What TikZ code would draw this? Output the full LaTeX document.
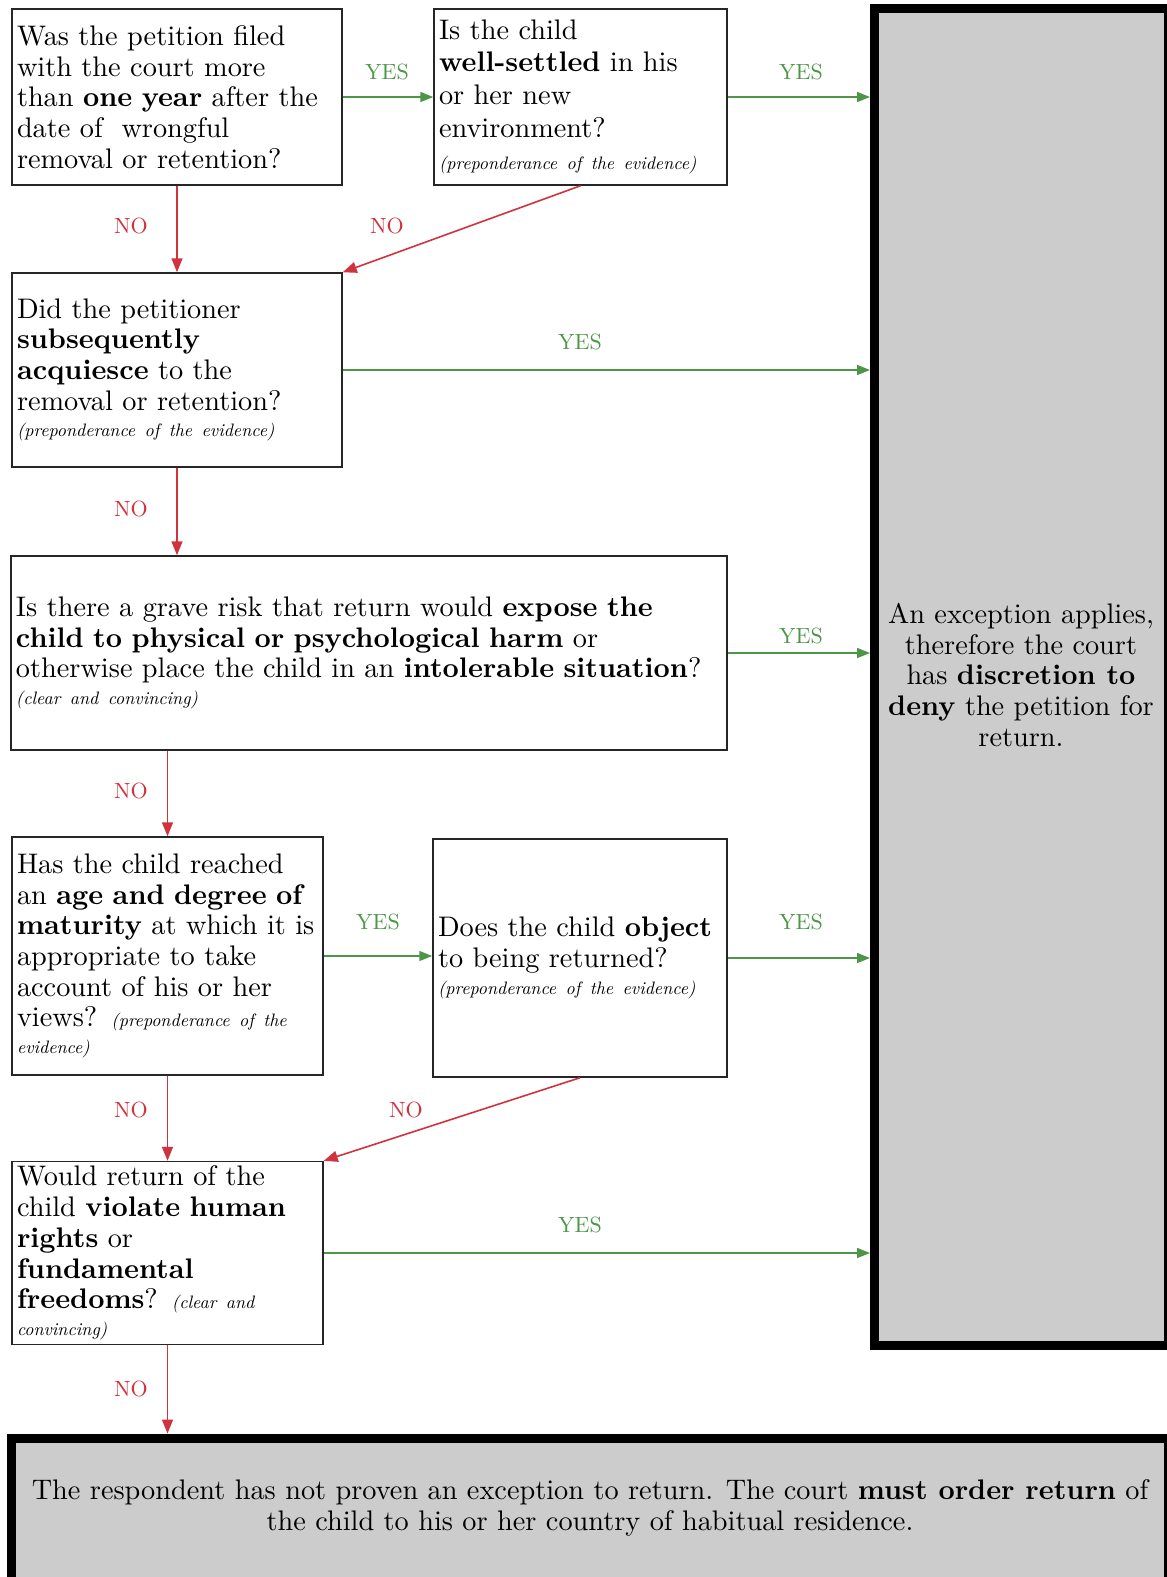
\documentclass[tikz,border=0pt]{standalone}
\usepackage{fontspec}
\setmainfont{lmroman10-regular.otf}[BoldFont=lmroman10-bold.otf, ItalicFont=lmroman10-italic.otf, BoldItalicFont=lmroman10-bolditalic.otf]
\usetikzlibrary{arrows.meta}
\definecolor{yesgreen}{RGB}{77,150,72}
\definecolor{nored}{RGB}{208,50,62}
\definecolor{boxgray}{RGB}{204,204,204}
\newcommand{\mainsz}{\fontsize{28.3}{30.7}\selectfont}
\newcommand{\widesz}{\fontsize{28.3}{32.7}\selectfont}
\newcommand{\lblsz}{\fontsize{22}{24}\selectfont}
\newcommand{\evid}[1]{{\fontsize{18}{20}\selectfont\itshape #1}}
\newcommand{\oneline}[1]{\mbox{#1}}
\begin{document}
\begin{tikzpicture}[x=1pt,y=-1pt,
  qbox/.style={draw=black!85, line width=1.5pt, align=left, inner xsep=5pt, inner ysep=0pt, font=\mainsz},
  endbox/.style={draw=black, fill=boxgray, line width=9pt, inner sep=0pt, font=\mainsz},
  yesarrow/.style={draw=yesgreen, line width=1.6pt, -{Triangle[length=13pt,width=10pt]}},
  noarrow/.style={draw=nored, line width=1.6pt, -{Triangle[length=14pt,width=11pt]}},
  yeslab/.style={text=yesgreen, font=\lblsz, inner sep=0pt},
  nolab/.style={text=nored, font=\lblsz, inner sep=0pt}]
\useasboundingbox (0,0) rectangle (1167,1577);
\clip (0,0) rectangle (1167,1577);

% end boxes
\node[endbox, minimum width=293.5pt, minimum height=1337pt, align=center] (R) at (1021.25,677) {};
\node[font=\mainsz, align=center] (Rt) at (1021,675) {An exception applies,\\ therefore the court\\ has \textbf{discretion to}\\ \textbf{deny} the petition for\\ return.};
\node[endbox, minimum width=1156.5pt, minimum height=202pt] (Z) at (589.75,1539) {};
\node[font=\mainsz, align=center] (Zt) at (590,1508) {The respondent has not proven an exception to return. The court \textbf{must order return} of\\ the child to his or her country of habitual residence.};

% question boxes
\node[qbox, minimum width=330pt, minimum height=176pt, text width=320pt] (A) at (177,97)
 {\oneline{Was the petition filed}\\ \oneline{with the court more}\\ \oneline{than \textbf{one year} after the}\\ \oneline{date of~ wrongful}\\ \oneline{removal or retention?}};
\node[qbox, font=\widesz, minimum width=293pt, minimum height=176pt, text width=283pt] (B) at (580.5,97)
 {\oneline{Is the child}\\ \oneline{\textbf{well-settled} in his}\\ \oneline{or her new}\\ \oneline{environment?}\\ \oneline{\evid{(preponderance of the evidence)}}};
\node[qbox, minimum width=330pt, minimum height=194pt, text width=320pt] (C) at (177,370)
 {\oneline{Did the petitioner}\\ \oneline{\textbf{subsequently}}\\ \oneline{\textbf{acquiesce} to the}\\ \oneline{removal or retention?}\\[-4pt] \oneline{\evid{(preponderance of the evidence)}}};
\node[qbox, minimum width=716pt, minimum height=194pt, text width=706pt] (D) at (369,653)
 {\oneline{Is there a grave risk that return would \textbf{expose the}}\\ \oneline{\textbf{child to physical or psychological harm} or}\\ \oneline{otherwise place the child in an \textbf{intolerable situation}?}\\[-4pt] \oneline{\evid{(clear and convincing)}}};
\node[qbox, minimum width=311pt, minimum height=238pt, text width=301pt] (E) at (167.5,956)
 {\oneline{Has the child reached}\\ \oneline{an \textbf{age and degree of}}\\ \oneline{\textbf{maturity} at which it is}\\ \oneline{appropriate to take}\\ \oneline{account of his or her}\\ \oneline{views? \evid{(preponderance of the}}\\[-4pt] \oneline{\evid{evidence)}}};
\node[qbox, minimum width=294pt, minimum height=238pt, text width=284pt] (F) at (580,958)
 {\oneline{Does the child \textbf{object}}\\ \oneline{to being returned?}\\[-4pt] \oneline{\evid{(preponderance of the evidence)}}};
\node[qbox, minimum width=311pt, minimum height=183pt, text width=301pt] (G) at (167.5,1253)
 {\oneline{Would return of the}\\ \oneline{child \textbf{violate human}}\\ \oneline{\textbf{rights} or}\\ \oneline{\textbf{fundamental}}\\ \oneline{\textbf{freedoms}? \evid{(clear and}}\\[-4pt] \oneline{\evid{convincing)}}};

% connectors
\draw[yesarrow] (A.east) -- (B.west);
\draw[yesarrow] (B.east) -- (B.east -| R.west);
\draw[noarrow] (A.south) -- (A.south |- C.north);
\draw[noarrow] (B.south) -- (C.north east);
\draw[yesarrow] (C.east) -- (C.east -| R.west);
\draw[noarrow] (C.south) -- (C.south |- D.north);
\draw[yesarrow] (D.east) -- (D.east -| R.west);
\draw[noarrow] (E.north |- D.south) -- (E.north);
\draw[yesarrow] (E.east) -- (E.east -| F.west);
\draw[yesarrow] (F.east) -- (F.east -| R.west);
\draw[noarrow] (E.south) -- (G.north);
\draw[noarrow] (F.south) -- (G.north east);
\draw[yesarrow] (G.east) -- (G.east -| R.west);
\draw[noarrow] (G.south) -- (G.south |- Z.north);

% labels
\node[yeslab] (l1) at (387,72) {YES};
\node[yeslab] (l2) at (801,72) {YES};
\node[nolab] (l3) at (131,226) {NO};
\node[nolab] (l4) at (387,226) {NO};
\node[yeslab] (l5) at (580,342) {YES};
\node[nolab] (l6) at (131,509) {NO};
\node[yeslab] (l7) at (801,636) {YES};
\node[nolab] (l8) at (131,791) {NO};
\node[yeslab] (l9) at (378,922) {YES};
\node[yeslab] (l10) at (801,922) {YES};
\node[nolab] (l11) at (131,1110) {NO};
\node[nolab] (l12) at (406,1110) {NO};
\node[yeslab] (l13) at (580,1225) {YES};
\node[nolab] (l14) at (131,1389) {NO};
\end{tikzpicture}
\end{document}
